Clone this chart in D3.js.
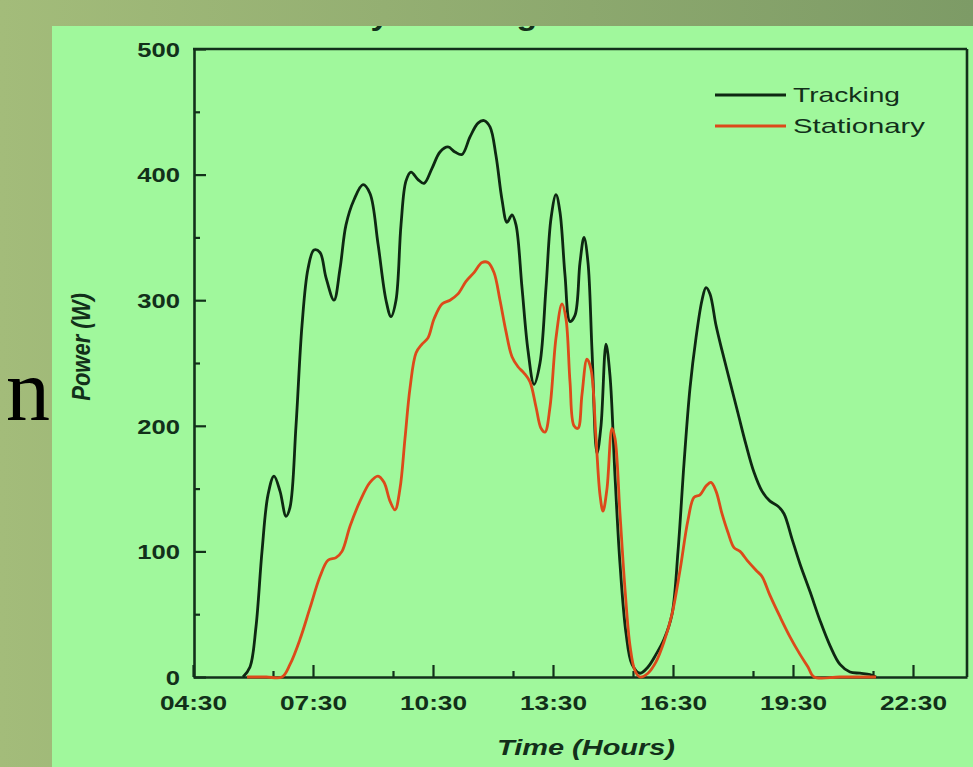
<!DOCTYPE html>
<html><head><meta charset="utf-8">
<script src="https://cdn.jsdelivr.net/npm/d3@7"></script>
<style>html,body{margin:0;padding:0;background:#9db574;overflow:hidden}</style>
</head><body><svg id="c" width="973" height="767"></svg>
<script>
// time in minutes after midnight
const trackTime=[345,355.5,364.5,373.5,382.5,391.5,400.5,409.5,415.5,424.5,
433.5,442.5,451.5,460.5,469.5,481.5,490.5,499.5,511.5,525,
535.5,547.5,559.5,567,574.5,582,589.5,597,607.5,616.5,
628.5,640.5,652.5,663,673.5,685.5,697.5,706.5,715.5,724.5,
733.5,741,748.5,754.5,763.5,772.5,781.5,790.5,799.5,807,
814.5,820.5,828,835.5,843,850.5,856.5,862.5,868.5,876,
882,889.5,895.5,903,910.5,919.5,928.5,940.5,952.5,964.5,
976.5,988.5,997.5,1006.5,1015.5,1024.5,1033.5,1039.5,1045.5,1054.5,
1063.5,1075.5,1087.5,1099.5,1111.5,1123.5,1135.5,1147.5,1156.5,1168.5,
1180.5,1195.5,1210.5,1225.5,1240.5,1255.5,1270.5,1285.5,1294.5];
const trackPower=[0,8,40,100,145,160,148,128,135,200,
280,325,340,338,318,300,325,360,380,392,
385,345,300,287,300,360,395,402,396,393,
405,418,422,418,416,430,441,443,438,415,
380,362,368,360,310,260,233,250,310,365,
384,370,320,283,288,330,350,330,260,178,
200,265,240,160,90,35,10,3,8,18,
30,50,100,170,230,270,300,310,305,280,
260,235,210,185,163,148,140,136,130,110,
90,68,45,25,10,4,3,2,0];
const statTime=[351,380,403.5,415.5,430.5,445.5,460.5,472.5,484.5,493.5,505.5,
520.5,535.5,547.5,556.5,565.5,573,580.5,588,595.5,604.5,
613.5,622.5,631.5,643.5,655.5,667.5,679.5,691.5,703.5,712.5,
721.5,730.5,739.5,748.5,757.5,766.5,775.5,784.5,792,798,
805.5,814.5,823.5,829.5,835.5,841.5,847.5,853.5,861,867,
874.5,880.5,885,891,898.5,903,910.5,918,925.5,933,
940.5,952.5,964.5,976.5,988.5,1000.5,1012.5,1021.5,1030.5,1039.5,
1047,1054.5,1063.5,1072.5,1081.5,1090.5,1102.5,1114.5,1123.5,1135.5,
1150.5,1165.5,1180.5,1192.5,1201.5,1240,1294.5];
const statPower=[0,0,0,10,30,55,80,93,95,100,120,
140,155,160,155,140,133,150,190,230,258,
265,270,285,297,300,305,315,322,330,330,
322,300,275,255,247,242,235,215,198,195,
215,270,297,285,235,200,198,225,253,245,
190,145,132,150,198,190,130,70,25,5,
0,3,12,28,50,85,125,143,145,152,
155,148,130,115,103,100,92,85,80,65,
48,32,18,8,0,0,0];
const xTickMinutes=[270,450,630,810,990,1170,1350];
const xTickLabels=["04:30","07:30","10:30","13:30","16:30","19:30","22:30"];
const xMinorMinutes=[390,570,750,930,1110,1290];
const yTicks=[0,100,200,300,400,500];
const yMinor=[50,150,250,350,450];
const seriesNames=["Tracking","Stationary"];
const seriesColors=["#0e2812","#dc4a1a"];

const svg=d3.select("#c");
const defs=svg.append("defs");
const grad=defs.append("linearGradient").attr("id","bg").attr("gradientUnits","userSpaceOnUse")
  .attr("x1",0).attr("y1",0).attr("x2",973).attr("y2",0);
grad.append("stop").attr("offset","0").attr("stop-color","#a3bc7a");
grad.append("stop").attr("offset","1").attr("stop-color","#7d9b66");
svg.append("rect").attr("width",973).attr("height",767).attr("fill","url(#bg)");
svg.append("rect").attr("x",52).attr("y",26).attr("width",921).attr("height",741).attr("fill","#a0f89c");

svg.append("text").attr("x",6).attr("y",420).attr("font-family","Liberation Serif").attr("font-size",88).attr("fill","#000").text("n");

const ink="#12301a";
const FONT="Liberation Sans, Arial, sans-serif";

// title, mostly hidden above the cropped panel (only descenders show)
const title=svg.append("text").attr("x",0).attr("y",0).attr("font-family",FONT).attr("font-size",30)
  .attr("font-weight","bold").attr("fill",ink).text("Daily Tracking");
(function(){
  const node=title.node();
  const e1=node.getExtentOfChar(4), e2=node.getExtentOfChar(13);
  const c1=e1.x+e1.width/2, c2=e2.x+e2.width/2;
  const sx=(527-380)/(c2-c1);
  title.attr("transform",`translate(${380-c1*sx},25) scale(${sx},1)`);
})();
// outer band drawn over the title's upper part
svg.append("rect").attr("x",0).attr("y",0).attr("width",973).attr("height",26).attr("fill","url(#bg)");

const x=d3.scaleLinear().domain([270,1431]).range([193,967]);
const y=d3.scaleLinear().domain([0,500]).range([677,49]);

// minor ticks
const xMinor=svg.append("g").attr("transform","translate(0,677)")
  .call(d3.axisBottom(x).tickValues(xMinorMinutes).tickSizeInner(-6).tickSizeOuter(0).tickFormat(""));
const yMinorG=svg.append("g").attr("transform","translate(194,0)")
  .call(d3.axisLeft(y).tickValues(yMinor).tickSizeInner(-6).tickSizeOuter(0).tickFormat(""));
[xMinor,yMinorG].forEach(g=>{g.select(".domain").remove();g.selectAll("line").attr("stroke",ink).attr("stroke-width",2.2);});

const xAx=svg.append("g").attr("transform","translate(0,677)")
  .call(d3.axisBottom(x).tickValues(xTickMinutes).tickSizeInner(-12).tickSizeOuter(0).tickFormat((d,i)=>xTickLabels[i]));
const yAx=svg.append("g").attr("transform","translate(194,0)")
  .call(d3.axisLeft(y).tickValues(yTicks).tickSizeInner(-12).tickSizeOuter(0).tickFormat(d3.format("d")));
[xAx,yAx].forEach(g=>{
  g.select(".domain").attr("stroke",ink).attr("stroke-width",2.6);
  g.selectAll("line").attr("stroke",ink).attr("stroke-width",2.2);
  g.selectAll("text").attr("font-family",FONT).attr("font-size",21).attr("font-weight","bold").attr("fill",ink);
});
xAx.selectAll("text").attr("y",0).attr("dy",0).attr("transform","translate(0,33) scale(1.25,1)");
yAx.selectAll("text").attr("x",0).attr("dy","0.35em").attr("transform","translate(-14,0) scale(1.22,1)");

// top and right frame
svg.append("line").attr("x1",193).attr("x2",967).attr("y1",y(500)).attr("y2",y(500)).attr("stroke",ink).attr("stroke-width",2.6);
svg.append("line").attr("x1",967).attr("x2",967).attr("y1",y(500)).attr("y2",y(0)).attr("stroke",ink).attr("stroke-width",2.6);

// axis titles
svg.append("text").attr("x",586).attr("y",755).attr("text-anchor","middle").attr("font-family",FONT).attr("font-size",22)
  .attr("font-weight","bold").attr("font-style","italic").attr("fill",ink)
  .attr("textLength",178).attr("lengthAdjust","spacingAndGlyphs").text("Time (Hours)");
svg.append("text").attr("transform","translate(81,347) rotate(-90) scale(1,1.2)").attr("text-anchor","middle")
  .attr("dy","0.35em").attr("font-family",FONT).attr("font-size",22).attr("font-weight","bold").attr("font-style","italic")
  .attr("fill",ink).text("Power (W)");

// lines
const line=d3.line().x(d=>x(d[0])).y(d=>y(Math.max(0,d[1]))).curve(d3.curveCatmullRom.alpha(0.5));
const trackData=trackTime.map((t,i)=>[t,trackPower[i]]);
const statData=statTime.map((t,i)=>[t,statPower[i]]);
svg.append("path").datum(trackData).attr("d",line).attr("fill","none").attr("stroke",seriesColors[0]).attr("stroke-width",2.8).attr("stroke-linejoin","round");
svg.append("path").datum(statData).attr("d",line).attr("fill","none").attr("stroke",seriesColors[1]).attr("stroke-width",2.8).attr("stroke-linejoin","round");

// legend
const legY=[95,126], legW=[107,132];
seriesNames.forEach((n,i)=>{
  svg.append("line").attr("x1",715).attr("x2",786).attr("y1",legY[i]).attr("y2",legY[i]).attr("stroke",seriesColors[i]).attr("stroke-width",2.8);
  svg.append("text").attr("x",793).attr("y",legY[i]).attr("dy","0.35em").attr("font-family",FONT).attr("font-size",21)
    .attr("fill",ink).attr("textLength",legW[i]).attr("lengthAdjust","spacingAndGlyphs").text(n);
});
</script></body></html>
